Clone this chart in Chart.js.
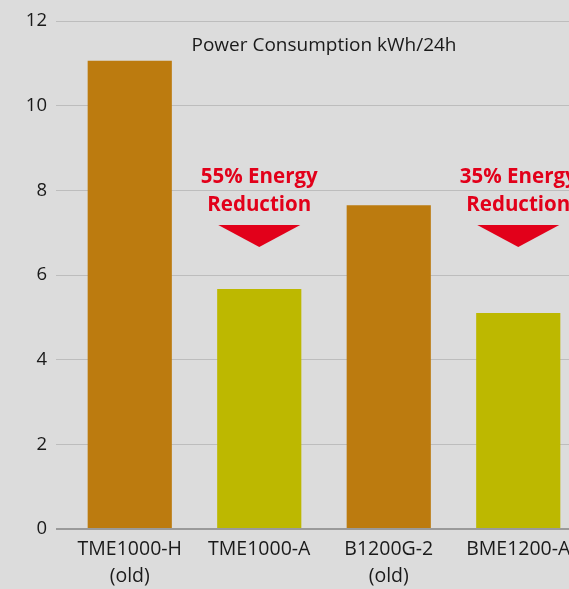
<!DOCTYPE html>
<html>
<head>
<meta charset="utf-8">
<script src="https://cdn.jsdelivr.net/npm/chart.js@4.4.0/dist/chart.umd.min.js"></script>
<style>
html,body{margin:0;padding:0;background:#dcdcdc;overflow:hidden;width:569px;height:589px;}
#wrap{position:absolute;left:0;top:0;width:583px;height:589px;}
</style>
</head>
<body>
<div id="wrap"><canvas id="c"></canvas></div>
<script>
const categories = [["TME1000-H","(old)"],["TME1000-A"],["B1200G-2","(old)"],["BME1200-A"]];
const values = [11.06, 5.67, 7.65, 5.10];
const barColors = ["#bc7b0f","#bdb800","#bc7b0f","#bdb800"];
const yTicks = [0,2,4,6,8,10,12];
const chartTitle = "Power Consumption kWh/24h";
const annotations = [
  {index:1, lines:["55% Energy","Reduction"]},
  {index:3, lines:["35% Energy","Reduction"]}
];
const FONT = "'Open Sans', sans-serif";

const overlay = {
  id:'overlay',
  afterDatasetsDraw(chart){
    const ctx = chart.ctx, xs = chart.scales.x, ys = chart.scales.y;
    ctx.save();
    ctx.fillStyle = '#1a1a1a';
    ctx.font = "19px " + FONT;
    ctx.textAlign = 'center';
    ctx.textBaseline = 'middle';
    ctx.fillText(chartTitle, (xs.getPixelForValue(1)+xs.getPixelForValue(2))/2, ys.getPixelForValue(11.42));
    annotations.forEach(a=>{
      const cx = xs.getPixelForValue(a.index);
      ctx.fillStyle = '#e2001a';
      ctx.font = "bold 20.5px " + FONT;
      ctx.fillText(a.lines[0], cx, ys.getPixelForValue(8.30));
      ctx.fillText(a.lines[1], cx, ys.getPixelForValue(7.66));
      const top = ys.getPixelForValue(7.18), apex = ys.getPixelForValue(6.66);
      ctx.beginPath();
      ctx.moveTo(cx-41, top);
      ctx.lineTo(cx+41, top);
      ctx.lineTo(cx, apex);
      ctx.closePath();
      ctx.fill();
    });
    ctx.restore();
  }
};

new Chart(document.getElementById('c'), {
  type:'bar',
  data:{labels:categories, datasets:[{data:values, backgroundColor:barColors, barPercentage:0.65, categoryPercentage:1}]},
  options:{
    responsive:true, maintainAspectRatio:false, animation:false,
    layout:{padding:{top:21,right:0,left:0,bottom:0}},
    plugins:{legend:{display:false}, tooltip:{enabled:false}},
    scales:{
      x:{
        grid:{display:false, drawTicks:false},
        border:{display:false},
        ticks:{color:'#1a1a1a', font:{family:FONT, size:19.5, lineHeight:1.38}, padding:7, maxRotation:0},
        afterFit(s){ s.height = 60; }
      },
      y:{
        min:0, max:12,
        afterBuildTicks(s){ s.ticks = yTicks.map(v=>({value:v})); },
        grid:{
          color:(c)=> c.tick && c.tick.value===0 ? '#9a9a9a' : '#bdbdbd',
          lineWidth:(c)=> c.tick && c.tick.value===0 ? 2 : 1,
          tickLength:9, drawTicks:true
        },
        border:{display:false},
        ticks:{color:'#1a1a1a', font:{family:FONT, size:18.5}, padding:9},
        afterFit(s){ s.width = 65; }
      }
    }
  },
  plugins:[overlay]
});
</script>
</body>
</html>
